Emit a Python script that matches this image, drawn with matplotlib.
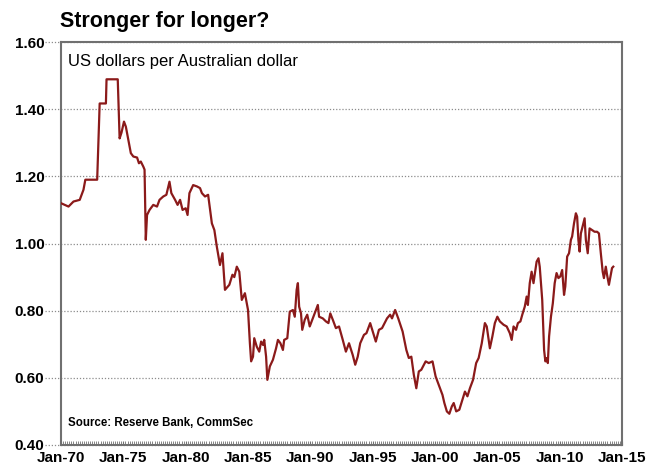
import matplotlib
matplotlib.use("Agg")
import matplotlib.pyplot as plt
import matplotlib.transforms as mtransforms
import numpy as np

plt.rcParams['font.family'] = ['Liberation Sans', 'DejaVu Sans']

# decimal year, US dollars per Australian dollar
years = [
    1970.0, 1970.3, 1970.6, 1971.0, 1971.5, 1971.8, 1971.95, 1972.9, 1973.1,
    1973.6, 1973.65, 1974.55, 1974.7, 1974.85, 1975.05, 1975.2, 1975.4, 1975.6,
    1975.8, 1976.1, 1976.25, 1976.4, 1976.6, 1976.7, 1976.8, 1976.9, 1977.1,
    1977.4, 1977.7, 1977.9, 1978.2, 1978.45, 1978.7, 1978.85, 1979.15, 1979.35,
    1979.55, 1979.75, 1980.0, 1980.15, 1980.3, 1980.6, 1980.9, 1981.15, 1981.3,
    1981.55, 1981.8, 1982.1, 1982.3, 1982.5, 1982.75, 1982.95, 1983.15, 1983.5,
    1983.75, 1983.9, 1984.1, 1984.3, 1984.5, 1984.75, 1985.0, 1985.15, 1985.25,
    1985.4, 1985.5, 1985.7, 1985.9, 1986.05, 1986.2, 1986.3, 1986.45, 1986.55,
    1986.75, 1987.0, 1987.25, 1987.4, 1987.6, 1987.8, 1987.9, 1988.15, 1988.35,
    1988.6, 1988.75, 1988.9, 1989.0, 1989.1, 1989.25, 1989.35, 1989.55, 1989.75,
    1989.95, 1990.25, 1990.45, 1990.6, 1990.7, 1991.0, 1991.25, 1991.45, 1991.6,
    1991.8, 1992.05, 1992.3, 1992.6, 1992.85, 1993.1, 1993.4, 1993.6, 1993.8,
    1994.0, 1994.3, 1994.5, 1994.8, 1995.05, 1995.25, 1995.5, 1995.75, 1996.15,
    1996.4, 1996.55, 1996.8, 1997.05, 1997.4, 1997.7, 1997.9, 1998.1, 1998.3,
    1998.5, 1998.7, 1998.9, 1999.25, 1999.5, 1999.8, 2000.05, 2000.35, 2000.6,
    2000.75, 2000.95, 2001.15, 2001.35, 2001.5, 2001.7, 2001.95, 2002.2, 2002.4,
    2002.6, 2002.8, 2003.05, 2003.3, 2003.5, 2003.75, 2004.0, 2004.15, 2004.4,
    2004.6, 2004.8, 2005.0, 2005.2, 2005.5, 2005.75, 2006.0, 2006.15, 2006.3,
    2006.5, 2006.65, 2006.85, 2007.0, 2007.2, 2007.35, 2007.45, 2007.6, 2007.75,
    2007.9, 2008.05, 2008.15, 2008.3, 2008.4, 2008.6, 2008.75, 2008.85, 2008.95,
    2009.05, 2009.15, 2009.3, 2009.45, 2009.6, 2009.75, 2009.9, 2010.05, 2010.2,
    2010.35, 2010.45, 2010.6, 2010.75, 2010.9, 2011.0, 2011.15, 2011.3, 2011.4,
    2011.5, 2011.6, 2011.7, 2011.9, 2012.0, 2012.1, 2012.25, 2012.4, 2012.6,
    2012.8, 2013.0, 2013.15, 2013.3, 2013.45, 2013.55, 2013.7, 2013.8, 2013.95,
    2014.1, 2014.2, 2014.3,
]
usd_per_aud = [
    1.12, 1.115, 1.11, 1.125, 1.13, 1.16, 1.19, 1.19, 1.417,
    1.417, 1.489, 1.489, 1.313, 1.33, 1.363, 1.348, 1.308, 1.269,
    1.259, 1.256, 1.239, 1.244, 1.229, 1.22, 1.011, 1.085, 1.10,
    1.115, 1.11, 1.13, 1.14, 1.145, 1.184, 1.15, 1.13, 1.115,
    1.13, 1.10, 1.105, 1.085, 1.15, 1.174, 1.17, 1.165, 1.15,
    1.14, 1.145, 1.06, 1.04, 0.99, 0.936, 0.971, 0.862, 0.877,
    0.907, 0.90, 0.931, 0.916, 0.832, 0.852, 0.802, 0.703, 0.649,
    0.663, 0.718, 0.693, 0.678, 0.708, 0.698, 0.713, 0.663, 0.594,
    0.634, 0.654, 0.688, 0.713, 0.703, 0.683, 0.713, 0.718, 0.797,
    0.802, 0.782, 0.862, 0.882, 0.812, 0.792, 0.743, 0.773, 0.788,
    0.753, 0.782, 0.802, 0.817, 0.782, 0.777, 0.768, 0.763, 0.792,
    0.773, 0.748, 0.753, 0.713, 0.678, 0.703, 0.668, 0.639, 0.663,
    0.703, 0.728, 0.733, 0.763, 0.733, 0.708, 0.743, 0.748, 0.777,
    0.788, 0.777, 0.802, 0.777, 0.738, 0.683, 0.659, 0.663, 0.609,
    0.569, 0.619, 0.624, 0.649, 0.644, 0.649, 0.604, 0.574, 0.549,
    0.525, 0.50, 0.493, 0.515, 0.525, 0.50, 0.505, 0.535, 0.559,
    0.545, 0.569, 0.594, 0.644, 0.659, 0.703, 0.763, 0.753, 0.688,
    0.723, 0.763, 0.782, 0.768, 0.758, 0.753, 0.733, 0.713, 0.753,
    0.743, 0.763, 0.768, 0.788, 0.812, 0.842, 0.817, 0.882, 0.916,
    0.882, 0.921, 0.946, 0.956, 0.931, 0.832, 0.683, 0.649, 0.659,
    0.644, 0.723, 0.782, 0.822, 0.882, 0.912, 0.897, 0.902, 0.921,
    0.847, 0.872, 0.961, 0.971, 1.011, 1.021, 1.06, 1.09, 1.08,
    1.011, 0.976, 1.03, 1.06, 1.075, 1.011, 0.971, 1.045, 1.04,
    1.035, 1.035, 1.03, 0.971, 0.916, 0.897, 0.931, 0.907, 0.877,
    0.907, 0.927, 0.931,
]

tick_years = [1970, 1975, 1980, 1985, 1990, 1995, 2000, 2005, 2010, 2015]
tick_labels = ['Jan-70', 'Jan-75', 'Jan-80', 'Jan-85', 'Jan-90',
               'Jan-95', 'Jan-00', 'Jan-05', 'Jan-10', 'Jan-15']
y_ticks = [0.40, 0.60, 0.80, 1.00, 1.20, 1.40, 1.60]

fig = plt.figure(figsize=(6.52, 4.70), dpi=100)
ax = fig.add_axes([0.0936, 0.0532, 0.8604, 0.8574])

ax.plot(years, usd_per_aud, color='#8b1a1a', lw=1.6, zorder=3)

ax.set_xlim(1970, 2015)
ax.set_ylim(0.40, 1.60)

# dotted gridlines that poke out a little to the left of the box
trans = mtransforms.blended_transform_factory(ax.transAxes, ax.transData)
for yv in y_ticks:
    ax.plot([-0.028, 1.0], [yv, yv], transform=trans, color='#8c8c8c',
            lw=0.9, ls=(0, (1, 1.5)), clip_on=False, zorder=1)

ax.set_yticks(y_ticks)
ax.set_yticklabels(['%.2f' % v for v in y_ticks])
ax.set_xticks(tick_years)
ax.set_xticklabels(tick_labels)
ax.set_xticks(np.arange(1970, 2015, 1 / 6), minor=True)

ax.tick_params(axis='y', length=0, pad=12, labelsize=11)
ax.tick_params(axis='x', which='major', direction='in', length=3, pad=4,
               labelsize=11, color='#707070')
ax.tick_params(axis='x', which='minor', direction='in', length=3,
               width=0.6, color='#707070')
for lab in ax.get_xticklabels() + ax.get_yticklabels():
    lab.set_fontweight('bold')

for sp in ax.spines.values():
    sp.set_color('#707070')
    sp.set_linewidth(1.5)

fig.text(0.092, 0.955, 'Stronger for longer?', fontsize=15.5,
         fontweight='bold', va='center', ha='left')
ax.text(0.012, 0.97, 'US dollars per Australian dollar', transform=ax.transAxes,
        fontsize=12, va='top', ha='left')
ax.text(0.012, 0.055, 'Source: Reserve Bank, CommSec', transform=ax.transAxes,
        fontsize=8.3, fontweight='bold', va='center', ha='left')

fig.savefig('out.png', dpi=100)
